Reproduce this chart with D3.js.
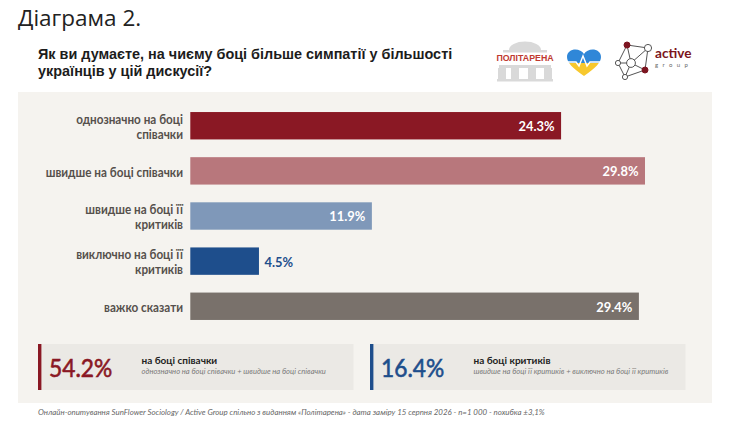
<!DOCTYPE html>
<html lang="uk"><head><meta charset="utf-8">
<script src="https://cdn.jsdelivr.net/npm/d3@7/dist/d3.min.js"></script>
<style>html,body{margin:0;padding:0;background:#fff}svg{display:block}text{font-family:Lato,"Noto Sans",sans-serif}</style>
</head><body><svg id="c" width="740" height="428"></svg>
<script>
const figureTitle = "Діаграма 2.";
const questionLines = ["Як ви думаєте, на чиєму боці більше симпатії у більшості", "українців у цій дискусії?"];
const categories = ["однозначно на боці співачки","швидше на боці співачки","швидше на боці її критиків","виключно на боці її критиків","важко сказати"];
const categoryLines = [["однозначно на боці","співачки"],["швидше на боці співачки"],["швидше на боці її","критиків"],["виключно на боці її","критиків"],["важко сказати"]];
const values = [24.3,29.8,11.9,4.5,29.4];
const barColors = ["#8a1824","#b8777c","#7f98b9","#1e4e8c","#79716b"];
const summaryValues = ["54.2%","16.4%"];
const summaryTitles = ["на боці співачки","на боці критиків"];
const summaryNotes = ["однозначно на боці співачки + швидше на боці співачки","швидше на боці її критиків + виключно на боці її критиків"];
const summaryColors = ["#8a1824","#1e4e8c"];
const footnote = "Онлайн-опитування SunFlower Sociology / Active Group спільно з виданням «Політарена» - дата заміру 15 серпня 2026 - n=1 000 - похибка ±3,1%";

const svg = d3.select("#c");
// text squeezed horizontally: the reference face is narrower than Lato
function squeezed(parent,px,py,sx){return parent.append("text").attr("transform",`translate(${px},${py}) scale(${sx},1)`);}

svg.append("text").attr("x",18).attr("y",25.5).attr("font-size",22.5).style("font-family","'Open Sans'").attr("fill","#222").text(figureTitle);
svg.selectAll(".q").data(questionLines).join("text").attr("x",38).attr("y",(d,i)=>59+i*17.3)
  .attr("font-size",14.43).attr("font-weight",700).style("font-family","'Liberation Sans'").attr("fill","#1c1c1c").text(d=>d);

svg.append("rect").attr("x",18).attr("y",92).attr("width",694).attr("height",311).attr("fill","#f5f3ef");

const x = d3.scaleLinear().domain([0,29.8]).range([190.3,645]);
const y = d3.scaleBand().domain(categories).range([112-8.85,320+8.85]).paddingInner(0.393).paddingOuter(0.197);
const g = svg.append("g");
categories.forEach((c,i)=>{
  const by=y(c), bh=y.bandwidth(), cy=by+bh/2;
  g.append("rect").attr("x",x(0)).attr("y",by).attr("width",x(values[i])-x(0)).attr("height",bh).attr("fill",barColors[i]);
  const lines=categoryLines[i];
  lines.forEach((l,j)=>squeezed(g,183,cy+5.8+(j-(lines.length-1)/2)*15,0.93)
    .attr("text-anchor","end").attr("font-size",12.6).attr("font-weight",700).attr("fill","#55504c").text(l));
  const inside=values[i]>6;
  squeezed(g,inside?x(values[i])-6.5:x(values[i])+5.5,cy+5.4,0.95)
    .attr("text-anchor",inside?"end":"start").attr("font-size",13.6).attr("font-weight",700)
    .attr("fill",inside?"#fff":barColors[i]).text(d3.format(".1f")(values[i])+"%");
});

[38,370].forEach((bx,i)=>{
  svg.append("rect").attr("x",bx).attr("y",344).attr("width",315.5).attr("height",46).attr("fill","#ebe9e5");
  svg.append("rect").attr("x",bx).attr("y",344).attr("width",3.4).attr("height",46).attr("fill",summaryColors[i]);
  squeezed(svg,bx+11,376.5,0.93).attr("font-size",24.5).attr("stroke",summaryColors[i]).attr("stroke-width",0.6).attr("fill",summaryColors[i]).text(summaryValues[i]);
  svg.append("text").attr("x",bx+103.5).attr("y",363.5).attr("font-size",10).attr("font-weight",700).attr("fill","#222").text(summaryTitles[i]);
  svg.append("text").attr("x",bx+103.5).attr("y",373.8).attr("font-size",7.6).attr("font-style","italic").attr("fill","#7a7a7a").text(summaryNotes[i]);
});
svg.append("text").attr("x",38).attr("y",415).attr("font-size",7.9).attr("font-style","italic").attr("fill","#666").text(footnote);

// Політарена logo
const p = svg.append("g").attr("fill","#d9d9d9");
p.append("path").attr("d","M509 50 A16 8.5 0 0 1 541 50 Z");
p.append("rect").attr("x",503).attr("y",50).attr("width",44).attr("height",2.5);
p.append("rect").attr("x",499).attr("y",65).attr("width",52).attr("height",3);
[498,511,528,544].forEach(px=>p.append("rect").attr("x",px).attr("y",68).attr("width",8).attr("height",11));
p.append("rect").attr("x",497).attr("y",79).attr("width",56).attr("height",2.5);
svg.append("text").attr("x",525).attr("y",61).attr("text-anchor","middle").attr("font-size",8.8).attr("font-weight",700)
  .style("font-family","'Liberation Sans'").attr("fill","#c0392f").text("ПОЛІТАРЕНА");

// heart logo
svg.append("clipPath").attr("id","hc").append("path").attr("d","M584 76 C572 68 567 62 567 57 C567 48 580 47 584 54 C588 47 601 48 601 57 C601 62 596 68 584 76 Z");
const h=svg.append("g").attr("clip-path","url(#hc)");
h.append("rect").attr("x",566).attr("y",46).attr("width",36).attr("height",17).attr("fill","#2f87d8");
h.append("rect").attr("x",566).attr("y",63).attr("width",36).attr("height",15).attr("fill","#f7c82e");
svg.append("path").attr("d","M567 62 H576 L579 66 L583 56 L587 66 L590 62 H601").attr("fill","none").attr("stroke","#fff").attr("stroke-width",1.4);

// active group logo
const n=[[627,45,"r"],[648,48,"w"],[631,63,"w"],[618,63,"w2"],[645,70,"r"],[625,77,"w2"]];
const e=[[0,1],[0,2],[0,3],[1,2],[1,4],[2,4],[2,5],[3,5],[4,5],[2,3]];
e.forEach(([a,b])=>svg.append("line").attr("x1",n[a][0]).attr("y1",n[a][1]).attr("x2",n[b][0]).attr("y2",n[b][1]).attr("stroke","#555").attr("stroke-width",1));
n.forEach(d=>svg.append("circle").attr("cx",d[0]).attr("cy",d[1]).attr("r",d[2]=="r"?3:d[2]=="w"?(d[1]==63?4.4:3.6):2.6)
  .attr("fill",d[2]=="r"?"#7c1520":"#fff").attr("stroke",d[2]=="r"?"#7c1520":"#555").attr("stroke-width",1));
svg.append("text").attr("x",655).attr("y",58).attr("font-size",13.6).attr("font-weight",700).attr("fill","#7c1520").text("active");
svg.append("text").attr("x",655).attr("y",66.5).attr("font-size",6).attr("letter-spacing",4.4).attr("fill","#666").text("group");
</script></body></html>
